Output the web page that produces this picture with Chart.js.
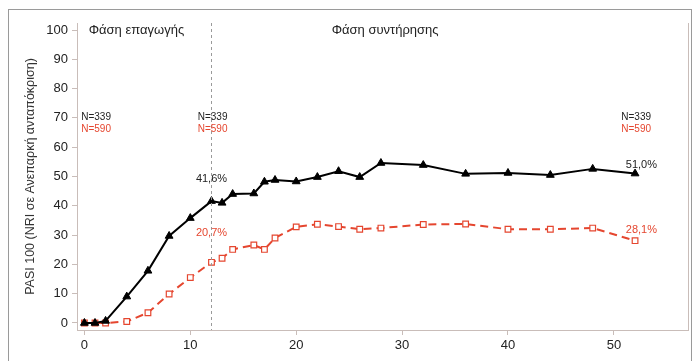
<!DOCTYPE html>
<html>
<head>
<meta charset="utf-8">
<script src="https://cdn.jsdelivr.net/npm/chart.js@4/dist/chart.umd.min.js"></script>
<style>
  html, body { margin: 0; padding: 0; background: #fff; }
  #wrap { width: 695px; height: 361px; }
</style>
</head>
<body>
<div id="wrap"><canvas id="pasiChart" width="695" height="361"></canvas></div>
<script>
// weeks of treatment
const weeks = [0, 1, 2, 4, 6, 8, 10, 12, 13, 14, 16, 17, 18, 20, 22, 24, 26, 28, 32, 36, 40, 44, 48, 52];
// PASI 100 response (%), NRI
const blackValues = [0, 0, 0.7, 9, 17.8, 29.7, 35.8, 41.6, 41, 44, 44.2, 48.2, 48.8, 48.3, 49.8, 51.8, 49.8, 54.6, 53.9, 50.9, 51.2, 50.5, 52.6, 51.0];
const redValues = [0, 0, 0, 0.5, 3.5, 9.9, 15.5, 20.7, 22.1, 25.1, 26.6, 25.1, 29, 32.8, 33.7, 32.9, 32, 32.4, 33.6, 33.8, 32, 32, 32.4, 28.1];
const yTicks = [0, 10, 20, 30, 40, 50, 60, 70, 80, 90, 100];
const xTicks = [0, 10, 20, 30, 40, 50];

const red = '#e5462f';
const ink = '#222';

const toPoints = vals => weeks.map((w, i) => ({ x: w, y: vals[i] }));

// dashed line at week 12, frame, and text notes
const notes = {
  id: 'notes',
  afterDraw(chart) {
    const { ctx, chartArea, scales: { x, y } } = chart;
    ctx.save();
    // outer frame
    ctx.strokeStyle = '#9a9a9a';
    ctx.lineWidth = 1;
    ctx.strokeRect(8.5, 9.5, 683, 360);
    // right border of plot
    ctx.strokeStyle = '#c9bdb9';
    ctx.beginPath();
    ctx.moveTo(chartArea.right + 0.5, chartArea.top);
    ctx.lineTo(chartArea.right + 0.5, chartArea.bottom);
    ctx.stroke();
    // week 12 separator
    const xs = Math.round(x.getPixelForValue(12)) + 0.5;
    ctx.strokeStyle = '#9a9a9a';
    ctx.setLineDash([3, 3]);
    ctx.beginPath();
    ctx.moveTo(xs, chartArea.top);
    ctx.lineTo(xs, chartArea.bottom);
    ctx.stroke();
    ctx.setLineDash([]);

    const put = (txt, wx, vy, color, size, align) => {
      ctx.fillStyle = color;
      ctx.font = size + 'px "Liberation Sans", Arial, sans-serif';
      ctx.textAlign = align;
      ctx.textBaseline = 'middle';
      ctx.fillText(txt, x.getPixelForValue(wx), y.getPixelForValue(vy));
    };
    put('Φάση επαγωγής', 0.4, 100, ink, 13, 'left');
    put('Φάση συντήρησης', 28.4, 100, ink, 13, 'center');
    [-0.3, 10.7, 50.7].forEach(w => {
      put('N=339', w, 70.2, ink, 10, 'left');
      put('N=590', w, 66.1, red, 10, 'left');
    });
    put('41,6%', 12, 49.2, ink, 11, 'center');
    put('20,7%', 12, 30.7, red, 11, 'center');
    put('51,0%', 52.6, 53.9, ink, 11, 'center');
    put('28,1%', 52.6, 31.7, red, 11, 'center');
    ctx.restore();
  }
};

new Chart(document.getElementById('pasiChart'), {
  type: 'line',
  data: {
    datasets: [{
      label: 'N=339',
      data: toPoints(blackValues),
      borderColor: '#000',
      backgroundColor: '#000',
      borderWidth: 2,
      pointStyle: 'triangle',
      pointRadius: 4.5,
      pointBorderWidth: 1
    }, {
      label: 'N=590',
      data: toPoints(redValues),
      borderColor: red,
      backgroundColor: '#fff',
      borderWidth: 2,
      borderDash: [8, 5],
      pointStyle: 'rect',
      pointRadius: 4,
      pointBorderWidth: 1.2
    }]
  },
  options: {
    responsive: false,
    animation: false,
    layout: { padding: { top: 23, right: 7, left: 23, bottom: 0 } },
    plugins: { legend: { display: false }, tooltip: { enabled: false } },
    scales: {
      x: {
        type: 'linear',
        min: -0.7,
        max: 57,
        afterFit: s => { s.height = 31; },
        afterBuildTicks: s => { s.ticks = xTicks.map(v => ({ value: v })); },
        ticks: { color: ink, font: { size: 13, family: '"Liberation Sans", Arial' }, padding: 3 },
        grid: { drawOnChartArea: false, tickLength: 5, color: '#c9bdb9' },
        border: { color: '#c9bdb9' }
      },
      y: {
        min: -2.4,
        max: 102.4,
        afterFit: s => { s.width = 54; },
        afterBuildTicks: s => { s.ticks = yTicks.map(v => ({ value: v })); },
        ticks: { color: ink, font: { size: 13, family: '"Liberation Sans", Arial' }, padding: 4 },
        grid: { drawOnChartArea: false, tickLength: 5, color: '#c9bdb9' },
        border: { color: '#c9bdb9' },
        title: {
          display: true,
          text: 'PASI 100 (NRI σε Ανεπαρκή ανταπόκριση)',
          color: '#333',
          font: { size: 12.5, family: '"Liberation Sans", Arial' },
          padding: { top: 0, bottom: 0 }
        }
      }
    }
  },
  plugins: [notes]
});
</script>
</body>
</html>
